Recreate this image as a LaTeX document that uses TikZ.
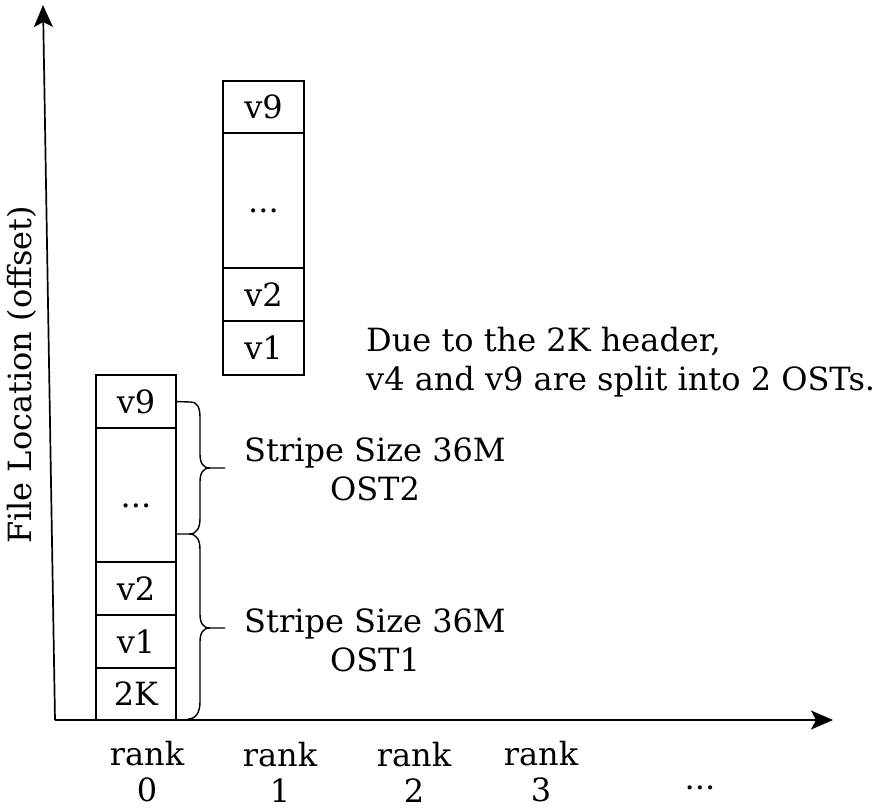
\documentclass[tikz,border=0pt]{standalone}
\usepackage{fontspec}
\setmainfont{DejaVu Serif}
\usetikzlibrary{arrows.meta}
\begin{document}
\begin{tikzpicture}[x=1pt,y=-1pt,
  every node/.style={font=\fontsize{32}{39}\selectfont},
  cell/.style={draw, line width=1.6pt, inner sep=0pt, outer sep=0pt, minimum width=80pt},
  dotcell/.style={cell, text height=24pt, text depth=0pt},
  axis/.style={line width=1.7pt, -{Stealth[length=22pt,width=19pt,inset=5pt]}},
  bracepath/.style={line width=1.4pt},
  lbl/.style={align=center, inner sep=0pt},
  ranklbl/.style={lbl, font=\fontsize{32}{36}\selectfont}]
\useasboundingbox (0,0) rectangle (879,809);

% axes
\coordinate (O) at (55,720);
\coordinate (ytop) at (43,5);
\coordinate (xend) at (833,720);
\draw[axis] (O) -- (ytop);
\draw[axis] (O) -- (xend);
\node[rotate=90, inner sep=0pt] (ylabel) at (22,375) {File Location (offset)};

% rank 0 column
\node[cell, minimum height=52pt] (L2K) at (136,694) {2K};
\node[cell, minimum height=53pt] (Lv1) at (136,641.5) {v1};
\node[cell, minimum height=53pt] (Lv2) at (136,588.5) {v2};
\node[dotcell, minimum height=134pt] (Ldots) at (136,495) {...};
\node[cell, minimum height=53pt] (Lv9) at (136,401.5) {v9};

% rank 1 column
\node[cell, minimum width=81pt, minimum height=54pt] (Rv1) at (263.5,348) {v1};
\node[cell, minimum width=81pt, minimum height=53pt] (Rv2) at (263.5,294.5) {v2};
\node[dotcell, minimum width=81pt, minimum height=135pt] (Rdots) at (263.5,200.5) {...};
\node[cell, minimum width=81pt, minimum height=52pt] (Rv9) at (263.5,107) {v9};

% braces marking the two stripes
\coordinate (b1top) at (Lv9.east);
\coordinate (bmid) at (176,534);
\coordinate (b2bot) at (188,719);
\draw[bracepath] (b1top) -- (190,402)
  .. controls (198,402) and (200,408) .. (200,418) -- (200,454)
  .. controls (200,463) and (203,468) .. (210,468) -- (225,468);
\draw[bracepath] (210,468)
  .. controls (203,468) and (200,473) .. (200,482) -- (200,518)
  .. controls (200,528) and (197,534) .. (189,534) -- (bmid);
\draw[bracepath] (189,534)
  .. controls (197,534) and (200,540) .. (200,550) -- (200,614)
  .. controls (200,623) and (203,628) .. (210,628) -- (225,628);
\draw[bracepath] (210,628)
  .. controls (203,628) and (200,633) .. (200,642) -- (200,702)
  .. controls (200,712) and (196,719) .. (b2bot);

\node[lbl] (ost2) at (375,469) {Stripe Size 36M\\OST2};
\node[lbl] (ost1) at (375,640) {Stripe Size 36M\\OST1};

\node[lbl, align=left, anchor=west] (note) at (366,362)
  {Due to the 2K header,\\v4 and v9 are split into 2 OSTs.};

% rank labels
\node[ranklbl] (r0) at (147,772) {rank\\0};
\node[ranklbl] (r1) at (280,772) {rank\\1};
\node[ranklbl] (r2) at (414,772) {rank\\2};
\node[ranklbl] (r3) at (541,772) {rank\\3};
\node[lbl] (rmore) at (700,788) {...};
\end{tikzpicture}
\end{document}
